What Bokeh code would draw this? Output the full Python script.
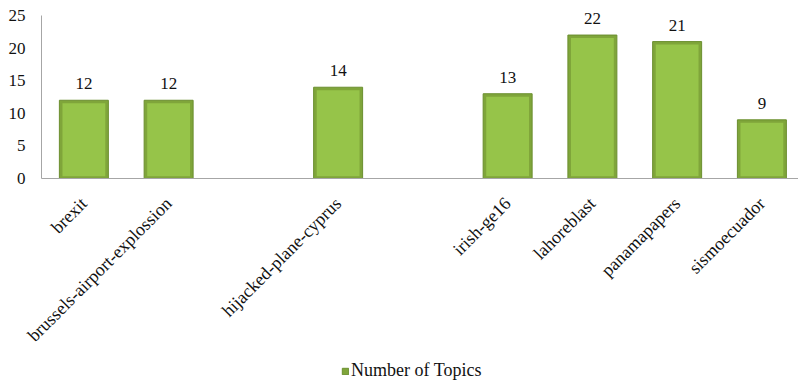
import math
from bokeh.plotting import figure
from bokeh.models import (Range1d, FixedTicker, ColumnDataSource, LabelSet,
                          Legend, LegendItem)
from bokeh.embed import file_html
from bokeh.resources import INLINE

# ---- data ----
categories = ["brexit", "brussels-airport-explossion", "", "hijacked-plane-cyprus", "",
              "irish-ge16", "lahoreblast", "panamapapers", "sismoecuador"]
topics = [12, 12, None, 14, None, 13, 22, 21, 9]
series_name = "Number of Topics"
y_ticks = [0, 5, 10, 15, 20, 25]

FONT = "Liberation Serif"
TXT = "#111111"

xs = [i for i, v in enumerate(topics) if v is not None]
vals = [v for v in topics if v is not None]
src = ColumnDataSource(dict(x=xs, top=vals, label=[str(v) for v in vals],
                            itop=[v - 0.45 for v in vals]))
cat_src = ColumnDataSource(dict(x=list(range(len(categories))),
                                y=[0] * len(categories), name=categories))

X0, X1 = -0.5, 8.432        # plotted category span
Y0, Y1 = 0, 25               # value axis span

# the frame covers the whole canvas; axes are pinned at fixed data locations
p = figure(width=798, height=381, output_backend="svg", toolbar_location=None,
           x_range=Range1d(-0.9838, X1), y_range=Range1d(-31.13, 27.3),
           min_border_left=0, min_border_right=0, min_border_top=0,
           min_border_bottom=0)
p.outline_line_color = None
p.background_fill_color = "white"
p.border_fill_color = "white"
p.xgrid.visible = False
p.ygrid.visible = False

outer = p.vbar(x="x", top="top", bottom=0, width=0.578, source=src,
               fill_color="#7fa53a", line_color="#6b8f2f", line_width=1)
p.vbar(x="x", top="itop", bottom=0.35, width=0.505, source=src,
       fill_color="#96c449", line_color=None)

labels = LabelSet(x="x", y="top", text="label", source=src, text_align="center",
                  text_baseline="alphabetic", y_offset=11, text_font=FONT,
                  text_font_size="17px", text_color=TXT)
p.add_layout(labels)

# category labels, rotated 45 degrees, ending at their tick
cat_labels = LabelSet(x="x", y="y", text="name", source=cat_src, angle=math.pi / 4,
                      text_align="right", text_baseline="middle", x_offset=0,
                      y_offset=-22, text_font=FONT, text_font_size="18px",
                      text_color=TXT)
p.add_layout(cat_labels)

# axes
p.yaxis.fixed_location = X0
p.yaxis.ticker = FixedTicker(ticks=y_ticks)
p.yaxis.bounds = (Y0, Y1)
p.yaxis.major_tick_line_color = None
p.yaxis.minor_tick_line_color = None
p.yaxis.major_tick_out = 0
p.yaxis.major_label_standoff = 16
p.yaxis.major_label_text_font = FONT
p.yaxis.major_label_text_font_size = "17px"
p.yaxis.major_label_text_color = TXT
p.yaxis.axis_line_color = "#a6a6a6"

p.xaxis.fixed_location = Y0
p.xaxis.bounds = (X0, X1)
p.xaxis.ticker = FixedTicker(ticks=[])
p.xaxis.major_tick_line_color = None
p.xaxis.minor_tick_line_color = None
p.xaxis.axis_line_color = "#a6a6a6"

legend = Legend(items=[LegendItem(label=series_name, renderers=[outer])],
                orientation="horizontal", location=(341, 0),
                glyph_width=8, glyph_height=8, label_standoff=2, padding=0,
                margin=0, border_line_color=None, background_fill_alpha=0,
                label_text_font=FONT, label_text_font_size="18px",
                label_text_color=TXT)
p.add_layout(legend)

open("out.html", "w").write(file_html(p, INLINE))
